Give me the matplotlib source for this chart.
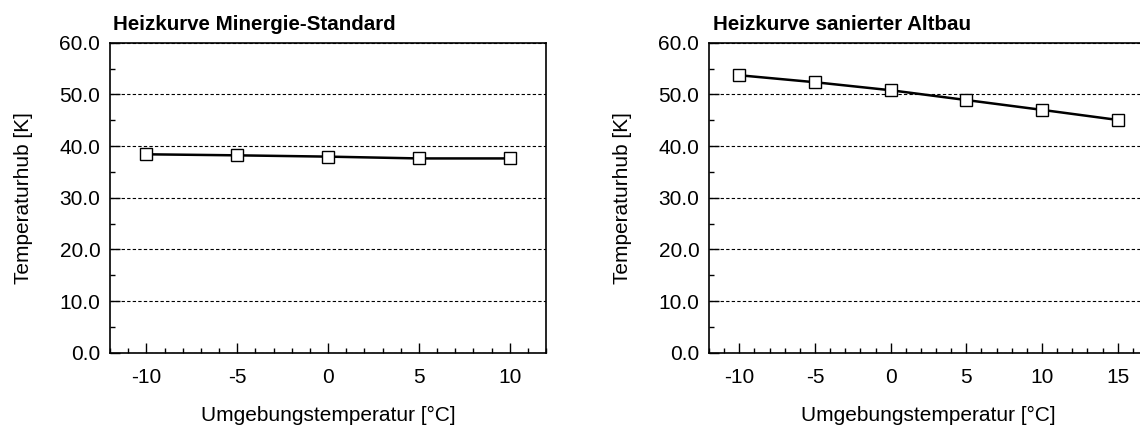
import matplotlib.pyplot as plt
from matplotlib.ticker import MultipleLocator, FormatStrFormatter

plt.rcParams['font.family'] = ['Liberation Sans', 'DejaVu Sans']
plt.rcParams['axes.unicode_minus'] = False

# Heizkurve Minergie-Standard
t_min = [-10, -5, 0, 5, 10]
hub_min = [38.4, 38.2, 37.95, 37.6, 37.6]

# Heizkurve sanierter Altbau
t_alt = [-10, -5, 0, 5, 10, 15]
hub_alt = [53.7, 52.35, 50.8, 48.9, 47.0, 45.05]

titles = ['Heizkurve Minergie-Standard', 'Heizkurve sanierter Altbau']
xlabel = 'Umgebungstemperatur [°C]'
ylabel = 'Temperaturhub [K]'

W, H = 1140, 428
fig = plt.figure(figsize=(W / 100, H / 100), dpi=100)
ax1 = fig.add_axes([110 / W, 75.3 / H, 436 / W, 310 / H])
ax2 = fig.add_axes([709 / W, 75.3 / H, 439 / W, 310 / H])

for ax, x, y, title, xlim in [(ax1, t_min, hub_min, titles[0], (-12, 12)),
                              (ax2, t_alt, hub_alt, titles[1], (-12, 17))]:
    ax.plot(x, y, color='black', lw=1.8, marker='s', ms=8.2, mfc='white',
            mec='black', mew=1.0, zorder=3)
    ax.set_xlim(*xlim)
    ax.set_ylim(0, 60)
    ax.xaxis.set_major_locator(MultipleLocator(5))
    ax.xaxis.set_minor_locator(MultipleLocator(1))
    ax.yaxis.set_major_locator(MultipleLocator(10))
    ax.yaxis.set_minor_locator(MultipleLocator(5))
    ax.yaxis.set_major_formatter(FormatStrFormatter('%.1f'))
    ax.tick_params(which='major', direction='in', length=7, width=1, labelsize=15)
    ax.tick_params(which='minor', direction='in', length=3.6, width=1)
    ax.tick_params(axis='x', which='major', pad=11)
    ax.tick_params(axis='y', which='major', pad=7)
    ax.grid(axis='y', color='black', lw=0.8, linestyle=(0, (3, 2)))
    ax.set_axisbelow(True)
    for s in ax.spines.values():
        s.set_linewidth(1.2)
    ax.set_xlabel(xlabel, fontsize=15, labelpad=14)
    ax.set_ylabel(ylabel, fontsize=15, labelpad=19)
    ax.set_title(title, loc='left', x=0.008, pad=9, fontsize=14.8, fontweight='bold')

fig.savefig('out.png', dpi=100)
